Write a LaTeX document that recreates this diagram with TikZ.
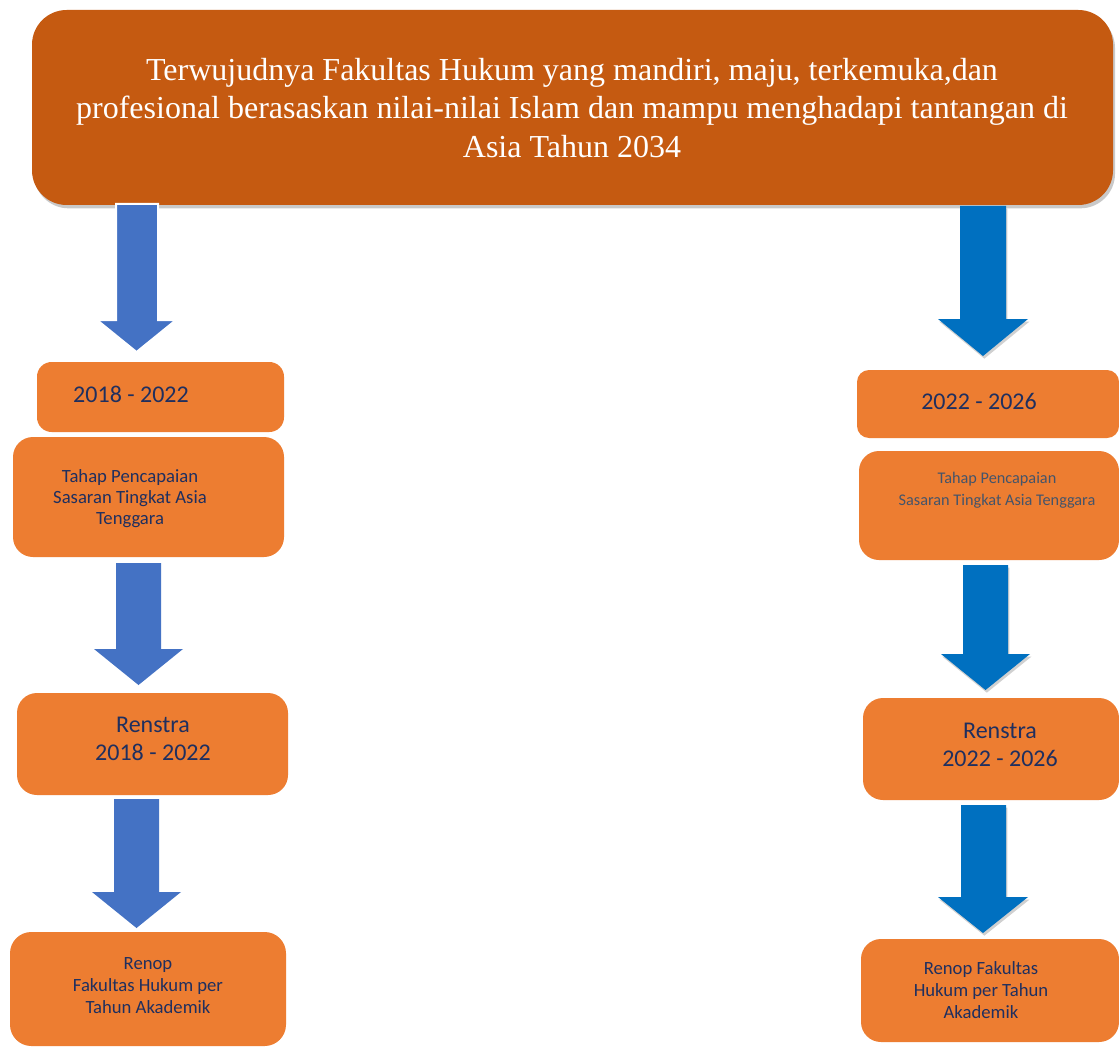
\documentclass[tikz,border=0pt]{standalone}
\usepackage{fontspec}
\setmainfont{Liberation Serif}
\newfontfamily\calfont{Carlito}
\usetikzlibrary{shadows,fit}
\definecolor{topfill}{HTML}{C55A11}
\definecolor{boxfill}{HTML}{ED7D31}
\definecolor{arrowA}{HTML}{4472C4}
\definecolor{arrowB}{HTML}{0070C0}
\definecolor{navy}{HTML}{1F2F5F}
\definecolor{slate}{HTML}{44546A}
\newcommand\blockarrow[8]{%
  \fill[#1] (#2,#6) -- (#3,#6) -- (#3,#7) -- (#5,#7) -- ({(#4+#5)/2},#8) -- (#4,#7) -- (#2,#7) -- cycle;}
\begin{document}
\begin{tikzpicture}[x=0.75pt,y=-0.75pt,
  box/.style={fill=boxfill, draw=none, rounded corners=#1, inner sep=0pt},
  box/.default=15pt,
  topbox/.style={fill=topfill, draw=none, rounded corners=26pt, inner sep=0pt,
     drop shadow={shadow xshift=1.5pt, shadow yshift=-2.5pt, opacity=0.35, fill=black!60}},
  toptxt/.style={text=white, font=\fontsize{24}{29}\selectfont, align=center},
  bigtxt/.style={text=navy, font=\calfont\fontsize{18}{21}\selectfont, align=center},
  smalltxt/.style={text=navy, font=\calfont\fontsize{14}{15.75}\selectfont, align=center},
  renoptxt/.style={text=navy, font=\calfont\fontsize{14}{16.5}\selectfont, align=center},
  arrL/.style={fill=arrowA},
  arrR/.style={fill=arrowB, drop shadow={shadow xshift=1pt, shadow yshift=-2pt, opacity=0.3, fill=black!60}}
]
\useasboundingbox[fill=white] (0,0) rectangle (1119,1048);

% top box
\node[topbox, fit={(32,10) (1113,205)}] (top) {};
\node[toptxt] (toptext) at (572,108) {Terwujudnya Fakultas Hukum yang mandiri, maju, terkemuka,dan\\
profesional berasaskan nilai-nilai Islam dan mampu menghadapi tantangan di\\
Asia Tahun 2034};

% left column
\node[box=11pt, fit={(37,362) (284,432)}] (L1) {};
\node[bigtxt] (L1t) at (131,394) {2018 - 2022};
\node[box=15pt, fit={(13,437) (284,557)}] (L2) {};
\node[smalltxt] (L2t) at (130,499) {Tahap Pencapaian\\Sasaran Tingkat Asia\\Tenggara};
\node[box=15pt, fit={(17,693) (288,795)}] (L3) {};
\node[bigtxt] (L3t) at (153,739) {Renstra\\2018 - 2022};
\node[box=16pt, fit={(10,932) (286,1046)}] (L4) {};
\node[renoptxt] (L4t) at (148,986) {Renop\\Fakultas Hukum per\\Tahun Akademik};

% right column
\node[box=9pt, fit={(857,370) (1119,438)}] (R1) {};
\node[bigtxt] (R1t) at (979,401) {2022 - 2026};
\node[box=15pt, fit={(859,451) (1119,560)}] (R2) {};
\node[smalltxt, text=slate, font=\calfont\fontsize{12.2}{16.5}\selectfont] (R2t) at (997,490) {Tahap Pencapaian\\Sasaran Tingkat Asia Tenggara};
\node[box=15pt, fit={(863,698) (1119,800)}] (R3) {};
\node[bigtxt] (R3t) at (1000,745) {Renstra\\2022 - 2026};
\node[box=15pt, fit={(861,939) (1119,1042)}] (R4) {};
\node[renoptxt] (R4t) at (981,990) {Renop Fakultas\\Hukum per Tahun\\Akademik};

% arrows
\blockarrow{arrL, draw=white, line width=1.5pt}{116}{158}{97}{176}{204}{320}{352}
\blockarrow{arrL}{116}{161}{94}{183}{563}{649}{685}
\blockarrow{arrL}{114}{159}{92}{181}{799}{892}{928}
\blockarrow{arrR}{960}{1006}{938}{1028}{206}{319}{356}
\blockarrow{arrR}{963}{1008}{941}{1030}{565}{654}{690}
\blockarrow{arrR}{961}{1006}{938}{1028}{805}{897}{933}
\end{tikzpicture}
\end{document}
